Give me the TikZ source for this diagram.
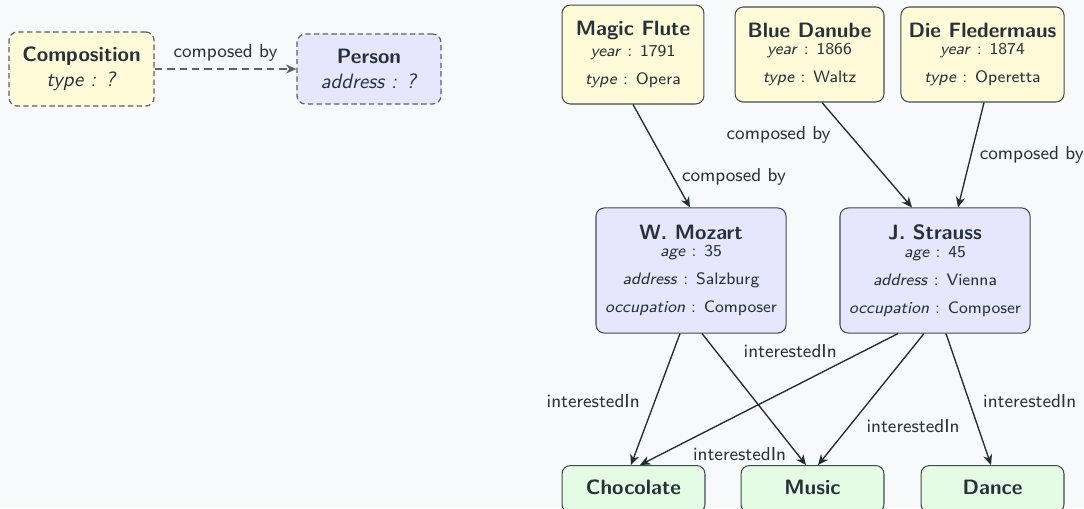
\documentclass[tikz,border=0pt]{standalone}
\usepackage{fontspec}
\renewcommand{\familydefault}{\sfdefault}
\usetikzlibrary{arrows.meta,positioning,calc}

\definecolor{bg}{HTML}{F8F9FA}
\definecolor{txt}{HTML}{263238}
\definecolor{edgec}{HTML}{1F2E33}
\definecolor{frame}{HTML}{3E4B50}
\definecolor{dashframe}{HTML}{56636A}
\definecolor{workfill}{HTML}{FFFAD8}
\definecolor{personfill}{HTML}{E6E6FF}
\definecolor{topicfill}{HTML}{E3FCE3}

\tikzset{
  box/.style={rectangle, rounded corners=4pt, line width=0.5pt, align=center, inner sep=0pt, text=txt},
  work/.style={box, draw=frame, fill=workfill, font=\footnotesize},
  person/.style={box, draw=frame, fill=personfill, font=\footnotesize},
  topic/.style={box, draw=frame, fill=topicfill, font=\bfseries, anchor=north,
    minimum width=68.9pt, text height=14pt, text depth=8.7pt},
  schemawork/.style={box, draw=dashframe, fill=workfill, line width=0.6pt, dash pattern=on 2.6pt off 1.6pt},
  schemaperson/.style={box, draw=dashframe, fill=personfill, line width=0.6pt, dash pattern=on 2.6pt off 1.6pt},
  rel/.style={draw=edgec, line width=0.65pt, -{Stealth[length=5pt,width=4.4pt,inset=1.6pt]}},
  schemarel/.style={draw=dashframe, line width=0.65pt, dash pattern=on 3.6pt off 2.4pt, -{Stealth[length=5pt,width=4.4pt,inset=1.6pt]}},
  lbl/.style={font=\small, text=txt, inner sep=0pt}
}
\newcommand{\ttl}[1]{{\normalsize\bfseries #1}}
\newcommand{\attr}[2]{\textit{#1} : #2}

\begin{document}
\begin{tikzpicture}[x=0.482pt, y=-0.482pt]
  \fill[bg] (0,0) rectangle (1084,508);
  \useasboundingbox (0,0) rectangle (1084,508);

  % schema
  \node[schemawork, minimum width=69.9pt, minimum height=35.7pt] (comp) at (81.5,69)
    {\textbf{Composition}\\ \textit{type : ?}};
  \node[schemaperson, minimum width=69.4pt, minimum height=33.7pt] (pers) at (369,69)
    {\textbf{Person}\\ \textit{address : ?}};
  \draw[schemarel] (comp) -- node[lbl, above=3.6pt] {composed by} (pers);

  % works
  \node[work, minimum width=68.4pt, minimum height=47.7pt] (mf) at (633,54.5)
    {\ttl{Magic Flute}\\[0.5pt] \attr{year}{1791}\\[4pt] \attr{type}{Opera}};
  \node[work, minimum width=71.8pt, minimum height=45.8pt] (bd) at (809.5,54.5)
    {\ttl{Blue Danube}\\[-1pt] \attr{year}{1866}\\[4pt] \attr{type}{Waltz}};
  \node[work, minimum width=78.6pt, minimum height=45.8pt] (df) at (982.5,54.5)
    {\ttl{Die Fledermaus}\\[-1pt] \attr{year}{1874}\\[4pt] \attr{type}{Operetta}};

  % composers
  \node[person, minimum width=91.6pt, minimum height=60.3pt] (moz) at (691,270.5)
    {\ttl{W. Mozart}\\[-1pt] \attr{age}{35}\\[4pt] \attr{address}{Salzburg}\\[4pt] \attr{occupation}{Composer}};
  \node[person, minimum width=91.6pt, minimum height=60.3pt] (str) at (935,270.5)
    {\ttl{J. Strauss}\\[-1pt] \attr{age}{45}\\[4pt] \attr{address}{Vienna}\\[4pt] \attr{occupation}{Composer}};

  % interests (their lower edge runs past the bottom of the page)
  \node[topic] (choc) at (633.5,465) {Chocolate};
  \node[topic] (mus) at (812.5,465) {Music};
  \node[topic] (dan) at (992.5,465) {Dance};

  % composed by
  \draw[rel] (mf.south) -- node[lbl, pos=0.706, right=3.9pt] {composed by} ($(moz.north)+(-1,0)$);
  \draw[rel] ($(bd.south)+(12.5,0)$) -- node[lbl, pos=0.31, left=9pt] {composed by} ($(str.north)+(-23,0)$);
  \draw[rel] ($(df.south)+(1.5,0)$) -- node[lbl, pos=0.5, right=3.9pt] {composed by} ($(str.north)+(23,0)$);

  % interestedIn
  \draw[rel] ($(moz.south)+(-11,0)$) -- node[lbl, pos=0.512, left=7pt] {interestedIn} ($(choc.north)+(-2.5,0)$);
  \draw[rel] ($(moz.south)+(11,0)$) -- node[lbl, pos=0.915, left=5pt] {interestedIn} ($(mus.north)+(-6.5,0)$);
  \draw[rel] ($(str.south)+(-37,0)$) -- node[lbl, pos=0.132, left=12.8pt] {interestedIn} ($(choc.north)+(6.5,0)$);
  \draw[rel] ($(str.south)+(-11,0)$) -- node[lbl, pos=0.705, right=8pt] {interestedIn} ($(mus.north)+(5.5,0)$);
  \draw[rel] ($(str.south)+(11,0)$) -- node[lbl, pos=0.512, right=6.5pt] {interestedIn} ($(dan.north)+(-1.5,0)$);
\end{tikzpicture}
\end{document}
